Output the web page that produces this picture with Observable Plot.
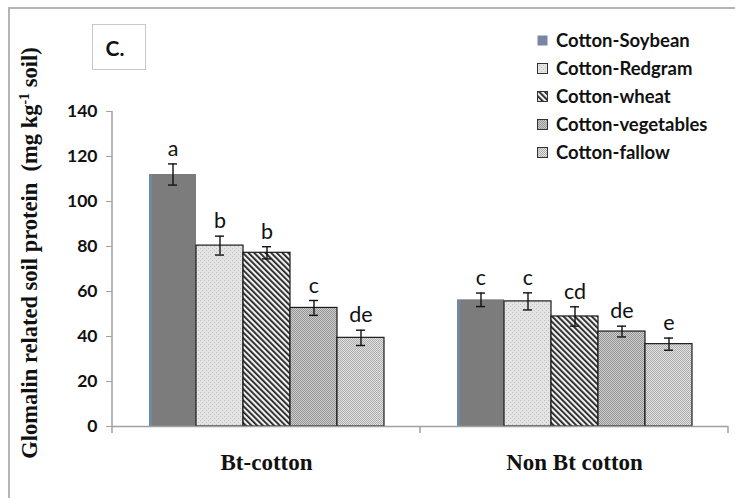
<!DOCTYPE html>
<html><head><meta charset="utf-8">
<script src="https://cdn.jsdelivr.net/npm/d3@7"></script>
<script src="https://cdn.jsdelivr.net/npm/@observablehq/plot@0.6"></script>
<style>
body{margin:0;background:#fff;}
#wrap{position:relative;width:735px;height:498px;overflow:hidden;font-family:Lato,sans-serif;background:#fff;}
#frame{position:absolute;left:8px;top:7px;right:-5px;bottom:-5px;border-top:2px solid #b4b4b4;border-left:2px solid #b4b4b4;}
#cbox{position:absolute;left:92px;top:24px;width:54px;height:46px;border:1.5px solid #c8c8c8;font:bold 21px Lato,sans-serif;color:#111;display:flex;align-items:center;justify-content:center;padding-right:8px;box-sizing:border-box;}
#ytitle{position:absolute;left:-200px;top:240px;width:460px;text-align:center;transform:rotate(-90deg);font:bold 22.5px "Liberation Serif",serif;color:#111;white-space:nowrap;}
#ytitle sup{font-size:14px;line-height:0;}
#legend{position:absolute;left:537px;top:26px;}
.lrow{display:flex;align-items:center;height:28px;font:bold 18.5px Lato,sans-serif;color:#111;}
.lrow svg{margin-right:8px;}
#chart{position:absolute;left:0;top:0;}
</style></head><body>
<div id="wrap">
<svg width="0" height="0" style="position:absolute">
<defs>
<linearGradient id="soy" x1="0" x2="1" y1="0" y2="0">
<stop offset="0" stop-color="#6f88aa"/><stop offset="0.06" stop-color="#6f88aa"/>
<stop offset="0.06" stop-color="#7c7c7c"/><stop offset="1" stop-color="#7c7c7c"/>
</linearGradient>
<pattern id="redgram" width="4" height="4" patternUnits="userSpaceOnUse">
<rect width="4" height="4" fill="#e4e4e4"/><rect x="0" y="0" width="1" height="1" fill="#bcbcbc"/><rect x="2" y="2" width="1" height="1" fill="#bcbcbc"/>
</pattern>
<pattern id="wheat" width="4" height="10" patternUnits="userSpaceOnUse" patternTransform="rotate(-45)">
<rect width="4" height="10" fill="#f0f0f0"/><rect x="0" y="0" width="1.8" height="10" fill="#222"/>
</pattern>
<pattern id="veg" width="2" height="2" patternUnits="userSpaceOnUse">
<rect width="2" height="2" fill="#cdcdcd"/><rect x="0" y="0" width="1" height="1" fill="#959595"/><rect x="1" y="1" width="1" height="1" fill="#959595"/>
</pattern>
<pattern id="fallow" width="2" height="2" patternUnits="userSpaceOnUse">
<rect width="2" height="2" fill="#e4e4e4"/><rect x="0" y="0" width="1" height="1" fill="#aaaaaa"/><rect x="1" y="1" width="1" height="1" fill="#aaaaaa"/>
</pattern>
</defs>
</svg>
<div id="frame"></div>
<div id="chart"></div>
<div id="cbox">C.</div>
<div id="ytitle">Glomalin related soil protein&nbsp; (mg kg<sup>-1</sup> soil)</div>
<div id="legend"></div>
</div>
<script>
const groups = ["Bt-cotton", "Non Bt cotton"];
const series = ["Cotton-Soybean", "Cotton-Redgram", "Cotton-wheat", "Cotton-vegetables", "Cotton-fallow"];
const btValues = [112, 80.4, 77.2, 52.7, 39.4];
const btErrors = [4.7, 4.2, 2.7, 3.3, 3.4];
const btLetters = ["a", "b", "b", "c", "de"];
const nonBtValues = [56.3, 55.6, 48.9, 42.2, 36.6];
const nonBtErrors = [3.0, 3.8, 4.3, 2.4, 2.7];
const nonBtLetters = ["c", "c", "cd", "de", "e"];
const yTicks = [0, 20, 40, 60, 80, 100, 120, 140];
const fills = ["url(#soy)", "url(#redgram)", "url(#wheat)", "url(#veg)", "url(#fallow)"];
const legendFills = ["#7886a3", "url(#redgram)", "url(#wheat)", "url(#veg)", "url(#fallow)"];

const data = [];
series.forEach((s, i) => {
  data.push({group: groups[0], series: s, value: btValues[i], err: btErrors[i], letter: btLetters[i]});
  data.push({group: groups[1], series: s, value: nonBtValues[i], err: nonBtErrors[i], letter: nonBtLetters[i]});
});
const caps = data.flatMap(d => [{...d, cap: d.value + d.err}, {...d, cap: d.value - d.err}]);

const plot = Plot.plot({
  width: 735, height: 498,
  marginLeft: 112, marginRight: 7, marginTop: 111, marginBottom: 72,
  style: {fontFamily: "Lato, sans-serif", background: "transparent", overflow: "visible"},
  fx: {domain: groups, padding: 0, label: null},
  x: {domain: series, paddingInner: 0, paddingOuter: 0.75, axis: null},
  y: {domain: [0, 140]},
  color: {domain: series, range: fills},
  marks: [
    Plot.axisY({ticks: yTicks, tickSize: 6, tickPadding: 9, stroke: "#a0a0a0", fill: "#111", fontSize: 17.5, fontWeight: "bold", label: null}),
    Plot.axisFx({anchor: "bottom", tickSize: 0, tickPadding: 27, fontSize: 23, fontWeight: "bold", fontFamily: "Liberation Serif, serif", fill: "#111", label: null}),
    Plot.barY(data.filter(d => d.series === series[0]), {fx: "group", x: "series", y: "value", fill: "series"}),
    Plot.barY(data.filter(d => d.series !== series[0]), {fx: "group", x: "series", y: "value", fill: "series", stroke: "#1a1a1a", strokeWidth: 1.2}),
    Plot.ruleY([0], {stroke: "#a0a0a0", strokeWidth: 1.5}),
    Plot.ruleX(data, {fx: "group", x: "series", y1: d => d.value - d.err, y2: d => d.value + d.err, stroke: "#111", strokeWidth: 1.4}),
    Plot.tickY(caps, {fx: "group", x: "series", y: "cap", stroke: "#111", strokeWidth: 1.4, insetLeft: 19, insetRight: 19}),
    Plot.text(data, {fx: "group", x: "series", y: d => d.value + d.err, text: "letter", dy: -8, lineAnchor: "bottom", fontSize: 21.5, fill: "#111"})
  ]
});
document.getElementById("chart").appendChild(plot);

// axis line and group boundary ticks from scales
const fxS = plot.scale("fx"), yS = plot.scale("y");
const svg = d3.select(plot);
const y0 = yS.apply(0), yTop = yS.apply(140);
const left = fxS.apply(groups[0]);
svg.append("line").attr("x1", left).attr("x2", left).attr("y1", yTop).attr("y2", y0 + 7)
  .attr("stroke", "#a0a0a0").attr("stroke-width", 1.5);
groups.forEach(g => {
  const xr = fxS.apply(g) + fxS.bandwidth;
  svg.append("line").attr("x1", xr).attr("x2", xr).attr("y1", y0).attr("y2", y0 + 7)
    .attr("stroke", "#a0a0a0").attr("stroke-width", 1.5);
});

// legend
const leg = d3.select("#legend");
series.forEach((s, i) => {
  const row = leg.append("div").attr("class", "lrow");
  const sw = row.append("svg").attr("width", 11).attr("height", 11);
  sw.append("rect").attr("x", 0.5).attr("y", 0.5).attr("width", 10).attr("height", 10)
    .attr("fill", legendFills[i]).attr("stroke", i === 0 ? "none" : "#333").attr("stroke-width", 1);
  row.append("span").text(s);
});
</script>
</body></html>
